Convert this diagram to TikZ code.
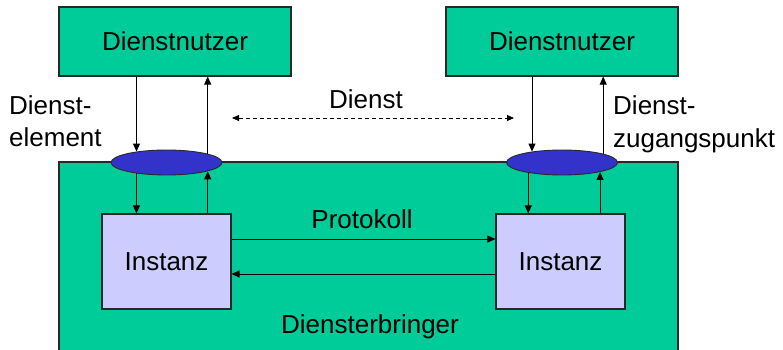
\documentclass[tikz,border=0pt]{standalone}
\usepackage{fontspec}
\setmainfont{Liberation Sans}
\usetikzlibrary{arrows.meta,shapes.geometric}
\definecolor{layergreen}{RGB}{0,204,153}
\definecolor{instfill}{RGB}{204,204,255}
\definecolor{sapblue}{RGB}{51,51,204}
\definecolor{edge}{RGB}{40,40,40}
\tikzset{
  userbox/.style={draw=edge, line width=1.1pt, fill=layergreen, minimum width=232pt, minimum height=69pt, inner sep=0pt},
  instbox/.style={draw=edge, line width=1.1pt, fill=instfill, minimum width=129pt, minimum height=95pt, inner sep=0pt},
  sap/.style={ellipse, draw=edge, line width=0.9pt, fill=sapblue, minimum width=111pt, minimum height=25pt, inner sep=0pt},
  flow/.style={line width=0.9pt, -{Triangle[length=8pt,width=7pt]}},
  peer/.style={line width=0.8pt, dash pattern=on 4pt off 3pt, {Triangle[length=7pt,width=6pt]}-{Triangle[length=7pt,width=6pt]}},
  lbl/.style={inner sep=0pt, font=\fontsize{26}{30}\selectfont}
}
\begin{document}
\begin{tikzpicture}[x=1pt, y=-1pt]
  \useasboundingbox (0,0) rectangle (783,350);
  \fill[white] (0,0) rectangle (783,350);

  % service provider layer (runs off the lower edge)
  \fill[layergreen] (59,162) rectangle (678,350);
  \draw[edge, line width=1.1pt] (59,350) -- (59,162) -- (678,162) -- (678,350);

  % service users
  \node[userbox, lbl] (n1) at (175,41.5) {Dienstnutzer};
  \node[userbox, lbl] (n2) at (562,41.5) {Dienstnutzer};

  % protocol entities
  \node[instbox, lbl] (i1) at (166.5,261.5) {Instanz};
  \node[instbox, lbl] (i2) at (560.5,261.5) {Instanz};

  % service access points
  \node[sap] (e1) at (166.5,162.5) {};
  \node[sap] (e2) at (562,162.5) {};

  % primitives between users and access points
  \draw[flow] (n1.south -| e1.160.7) -- (e1.160.7);
  \draw[flow] (e1.12.7) -- (n1.south -| e1.12.7);
  \draw[flow] (n2.south -| e2.160.7) -- (e2.160.7);
  \draw[flow] (e2.12.7) -- (n2.south -| e2.12.7);

  % primitives between access points and entities
  \draw[flow] (e1.200) -- (i1.north -| e1.200);
  \draw[flow] (i1.north -| e1.-12.7) -- (e1.-12.7);
  \draw[flow] (e2.197.7) -- (i2.north -| e2.197.7);
  \draw[flow] (i2.north -| e2.-14) -- (e2.-14);

  % protocol exchange
  \draw[flow] ([yshift=22.5pt]i1.east) -- ([yshift=22.5pt]i2.west);
  \draw[flow] ([yshift=-12.5pt]i2.west) -- ([yshift=-12.5pt]i1.east);

  % service (peer relation)
  \coordinate (dl) at (232,118);
  \coordinate (dr) at (514,118);
  \draw[peer] (dl) -- (dr);

  % labels
  \node[lbl, anchor=base west] (t1) at (9,114) {Dienst-};
  \node[lbl, anchor=base west] (t2) at (9,146) {element};
  \node[lbl, anchor=base] (t3) at (366,108) {Dienst};
  \node[lbl, anchor=base west] (t4) at (613,114) {Dienst-};
  \node[lbl, anchor=base west] (t5) at (613,147) {zugangspunkt};
  \node[lbl, anchor=base] (t6) at (362,228) {Protokoll};
  \node[lbl, anchor=base] (t7) at (370,333) {Diensterbringer};
\end{tikzpicture}
\end{document}
